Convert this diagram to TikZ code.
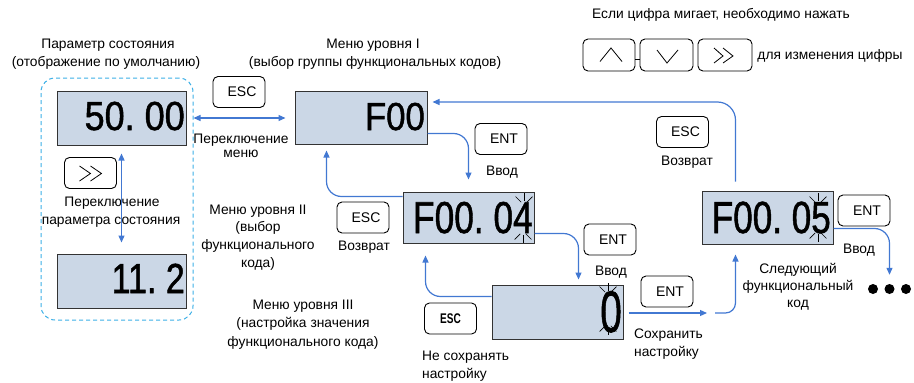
\documentclass[tikz,border=0pt]{standalone}
\usepackage{fontspec}
\setmainfont{Liberation Sans}
\newfontfamily\dispfont[FakeBold=1.3]{Liberation Sans}
\usetikzlibrary{arrows.meta}
\definecolor{arrblue}{RGB}{66,120,210}
\definecolor{dispfill}{RGB}{203,215,230}
\definecolor{dashblue}{RGB}{60,175,230}
\newcommand\blinkmark[3]{% x, y, sign (-1 top, 1 bottom)
  \foreach \a in {45,90,135}{\draw[blinkline] (#1,#2) ++(#3*\a:4) -- ++(#3*\a:8);}}
\begin{document}
\begin{tikzpicture}[x=1pt,y=-1pt,
  >={Triangle[length=7pt,width=6pt]},
  lbl/.style={font=\fontsize{13.8}{16}\selectfont, inner sep=0pt},
  lbll/.style={lbl, anchor=west},
  btn/.style={draw=black, fill=white, rounded corners=5pt, line width=0.9pt, minimum width=52pt, minimum height=31pt, inner sep=0pt, font=\fontsize{14}{16}\selectfont},
  disp/.style={draw=black!80, fill=dispfill, line width=1pt, inner sep=0pt},
  dtxt/.style={anchor=base east, inner sep=0pt},
  arr/.style={draw=arrblue, line width=1.2pt, ->, rounded corners=15pt},
  dbl/.style={draw=arrblue, line width=1.2pt, <->},
  blk/.style={line width=0.8pt, black},
  blinkline/.style={line width=0.7pt, black},
  dot/.style={circle, fill=black, minimum size=10pt, inner sep=0pt}]
\useasboundingbox (0,0) rectangle (914,383);

% dashed group
\node[draw=dashblue, line width=1pt, dash pattern=on 4pt off 3pt, rounded corners=14pt, minimum width=152pt, minimum height=242pt, inner sep=0pt] (grp) at (117,199) {};

% displays
\node[disp, minimum width=129pt, minimum height=54pt] (D1) at (121.5,118) {};
\node[disp, minimum width=129pt, minimum height=54pt] (D2) at (121.5,281) {};
\node[disp, minimum width=132pt, minimum height=53pt] (D3) at (361,117.5) {};
\node[disp, minimum width=131pt, minimum height=51pt] (D4) at (468.5,217.5) {};
\node[disp, minimum width=131pt, minimum height=54pt] (D5) at (557.5,312) {};
\node[disp, minimum width=131pt, minimum height=53pt] (D6) at (767.5,217.5) {};

\node[dtxt] (T1) at (185,130) {\scalebox{0.89}[1]{\dispfont\fontsize{40.5}{40}\selectfont 50.\ 00}};
\node[dtxt] (T2) at (185,293) {\scalebox{0.81}[1]{\dispfont\fontsize{42}{42}\selectfont 11.\ 2}};
\node[dtxt] (T3) at (425,130) {\scalebox{0.89}[1]{\dispfont\fontsize{39}{39}\selectfont F00}};
\node[dtxt] (T4) at (533,233) {\scalebox{0.79}[1]{\dispfont\fontsize{44.7}{44}\selectfont F00.\ 04}};
\node[dtxt] (T5) at (622,332) {\scalebox{0.66}[1]{\dispfont\fontsize{58.6}{58}\selectfont 0}};
\node[dtxt] (T6) at (831,233) {\scalebox{0.78}[1]{\dispfont\fontsize{45}{45}\selectfont F00.\ 05}};

% blinking marks
\blinkmark{524}{205}{-1}
\blinkmark{523}{231}{1}
\blinkmark{608}{295}{-1}
\blinkmark{608}{323}{1}
\blinkmark{818}{205}{-1}
\blinkmark{818}{230}{1}

% buttons
\node[btn] (escA) at (239,92) {\hspace{6pt}ESC};
\node[btn] (ffA) at (90.5,173) {};
\draw[blk] ([shift={(-11,-7)}]ffA.center) -- ([shift={(0,0.5)}]ffA.center) -- ([shift={(-11,8)}]ffA.center);
\draw[blk] ([shift={(0,-7)}]ffA.center) -- ([shift={(11,0.5)}]ffA.center) -- ([shift={(0,8)}]ffA.center);
\node[btn] (entA) at (501,139) {\hspace{6pt}ENT};
\node[btn] (escB) at (363,217.5) {\hspace{6pt}ESC};
\node[btn] (entB) at (610,239.5) {\hspace{6pt}ENT};
\node[btn] (escC) at (450.5,318.5) {\scalebox{0.72}[1]{\bfseries ESC}};
\node[btn] (entC) at (667,291.5) {\hspace{6pt}ENT};
\node[btn] (escD) at (682.5,132) {\hspace{6pt}ESC};
\node[btn] (entD) at (864,210.5) {\hspace{6pt}ENT};

% top keys
\node[btn, minimum height=32pt] (kUp) at (609,55) {};
\node[btn, minimum height=32pt, minimum width=53pt] (kDn) at (666.5,55) {};
\node[btn, minimum height=32pt, minimum width=54pt] (kFf) at (725,55) {};
\draw[blk] ([yshift=-4pt]kUp.east) -- ([yshift=-4pt]kDn.west);
\draw[blk] ([shift={(-9,6.5)}]kUp.center) -- ([shift={(2,-7)}]kUp.center) -- ([shift={(13,6.5)}]kUp.center);
\draw[blk] ([shift={(-9.5,-5)}]kDn.center) -- ([shift={(0.5,8)}]kDn.center) -- ([shift={(11.5,-5)}]kDn.center);
\draw[blk] ([shift={(-11,-7)}]kFf.center) -- ([shift={(-2,1)}]kFf.center) -- ([shift={(-11,8)}]kFf.center);
\draw[blk] ([shift={(-2,-7)}]kFf.center) -- ([shift={(8,1)}]kFf.center) -- ([shift={(-2,8)}]kFf.center);

% dots
\node[dot] (dot1) at (873,289) {};
\node[dot] (dot2) at (889.5,289) {};
\node[dot] (dot3) at (906,289) {};

% labels
\node[lbl] (l1) at (108,45) {Параметр состояния};
\node[lbl] (l2) at (106,63) {(отображение по умолчанию)};
\node[lbl] (l3) at (373,45) {Меню уровня I};
\node[lbl] (l4) at (375,63) {(выбор группы функциональных кодов)};
\node[lbl] (l5) at (721,15) {Если цифра мигает, необходимо нажать};
\node[lbl] (l6) at (830,56) {для изменения цифры};
\node[lbl] (l7) at (241,140) {Переключение};
\node[lbl] (l8) at (241,154) {меню};
\node[lbl] (l9) at (112,203) {Переключение};
\node[lbl] (l10) at (111,222) {параметра состояния};
\node[lbl] (l11) at (258,211) {Меню уровня II};
\node[lbl] (l12) at (258,228) {(выбор};
\node[lbl] (l13) at (258,246) {функционального};
\node[lbl] (l14) at (258,264) {кода)};
\node[lbl] (l15) at (303,306) {Меню уровня III};
\node[lbl] (l16) at (303,324) {(настройка значения};
\node[lbl] (l17) at (303,343) {функционального кода)};
\node[lbl] (l18) at (502,172) {Ввод};
\node[lbl] (l19) at (364,247) {Возврат};
\node[lbl] (l20) at (611,272) {Ввод};
\node[lbll] (l21) at (634,335) {Сохранить};
\node[lbll] (l22) at (634,353) {настройку};
\node[lbll] (l23) at (422,357) {Не сохранять};
\node[lbll] (l24) at (422,375) {настройку};
\node[lbl] (l25) at (687,162) {Возврат};
\node[lbl] (l26) at (859,250) {Ввод};
\node[lbl] (l27) at (798,270) {Следующий};
\node[lbl] (l28) at (798,287) {функциональный};
\node[lbl] (l29) at (798,305) {код};

% connectors
\draw[dbl, shorten <=8pt, shorten >=11pt] (D1.south) -- (D2.north);
\draw[dbl] (grp.east |- D1.east) -- ([xshift=-9pt]D1.east -| D3.west);
\draw[arr] ([yshift=11pt]D3.south east) -| ([yshift=12pt]D4.north);
\draw[arr] ([yshift=-5pt]D4.north west) -| ([xshift=32pt,yshift=-6pt]D3.south west);
\draw[arr] ([yshift=10pt]D4.south east) -| ([xshift=87pt,yshift=5pt]D5.north west);
\draw[arr] ([yshift=-12pt]D5.north west) -| ([xshift=23pt,yshift=-12pt]D4.south west);
\coordinate (g1) at (707,313);
\coordinate (g2) at (715,313);
\draw[arr] ([xshift=5pt,yshift=-1pt]D5.east) -- (g1);
\draw[arr, rounded corners=10pt] (g2) -| ([xshift=34pt,yshift=-10pt]D6.south west);
\draw[arr, rounded corners=18pt] ([xshift=34pt,yshift=9pt]D6.north west) |- ([xshift=5pt,yshift=15.5pt]D3.east);
\draw[arr] ([yshift=16pt]D6.south east) -| ([yshift=9pt]dot2.north);
\end{tikzpicture}
\end{document}
